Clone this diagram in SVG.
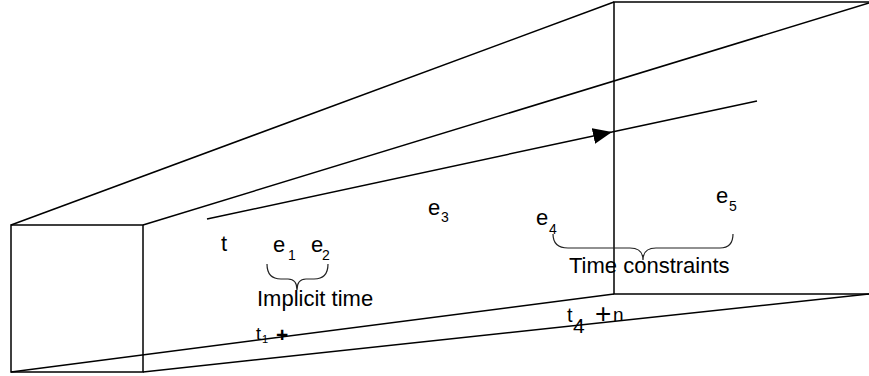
<svg xmlns="http://www.w3.org/2000/svg" width="869" height="376" viewBox="0 0 869 376">
<defs>
<marker id="ah" markerUnits="userSpaceOnUse" markerWidth="22" markerHeight="20" refX="19" refY="8" orient="auto">
<polygon points="0,0 19,8 0,16" fill="#000"/>
</marker>
<style>
.ln{stroke:#000;stroke-width:1.5;fill:none}
.br{stroke:#222;stroke-width:1.2;fill:none}
text{font-family:"Liberation Sans",Arial,sans-serif;fill:#000}
.lb{font-size:22px}
.ev{font-size:22px}
.sb{font-size:14px}
</style>
</defs>
<rect width="869" height="376" fill="#fff"/>
<g id="connectors">
<rect id="front-box" x="11" y="225" width="132" height="147" class="ln"/>
<line x1="11" y1="225" x2="614" y2="2" class="ln"/>
<line x1="143" y1="225" x2="869" y2="3" class="ln"/>
<line x1="11" y1="372" x2="614" y2="294" class="ln"/>
<line x1="143" y1="372" x2="869" y2="294" class="ln"/>
<polyline points="869,2 614,2 614,294 869,294" class="ln"/>
<line x1="207" y1="219" x2="612" y2="132" class="ln" marker-end="url(#ah)"/>
<line x1="612" y1="132" x2="757" y2="101" class="ln"/>
</g>
<g id="t-label"><text x="221" y="251" class="lb">t</text></g>
<g id="e1"><text x="273" y="252" class="ev">e</text><text x="288" y="260" class="sb">1</text></g>
<g id="e2"><text x="311" y="252" class="ev">e</text><text x="322" y="260" class="sb">2</text></g>
<g id="e3"><text x="428" y="215" class="ev">e</text><text x="441" y="222" class="sb">3</text></g>
<g id="e4"><text x="536" y="225" class="ev">e</text><text x="549" y="234" class="sb">4</text></g>
<g id="e5"><text x="716" y="203" class="ev">e</text><text x="729" y="211" class="sb">5</text></g>
<g id="implicit-time">
<path class="br" d="M267,264 Q267,279 281,279 L288,279 Q297,279 297,290 Q297,279 306,279 L314,279 Q328,279 328,264"/>
<text x="257" y="306" class="lb">Implicit time</text>
</g>
<g id="time-constraints">
<path class="br" d="M553,234 Q553,248 568,248 L630,248 Q643,248 643,260 Q643,248 656,248 L720,248 Q733,248 733,234"/>
<text x="569" y="273" class="lb">Time constraints</text>
</g>
<g id="t1">
<text x="256" y="340" style="font-size:18px">t</text>
<text x="262" y="343" style="font-size:11px">1</text>
<text x="276" y="342" style="font-size:21px;font-weight:bold">+</text>
</g>
<g id="t4">
<text x="567" y="322" style="font-size:20px">t</text>
<text x="573" y="333" style="font-size:21px">4</text>
<text x="595" y="323" style="font-size:28px">+</text>
<text x="613" y="321" style="font-size:19px">n</text>
</g>
</svg>
